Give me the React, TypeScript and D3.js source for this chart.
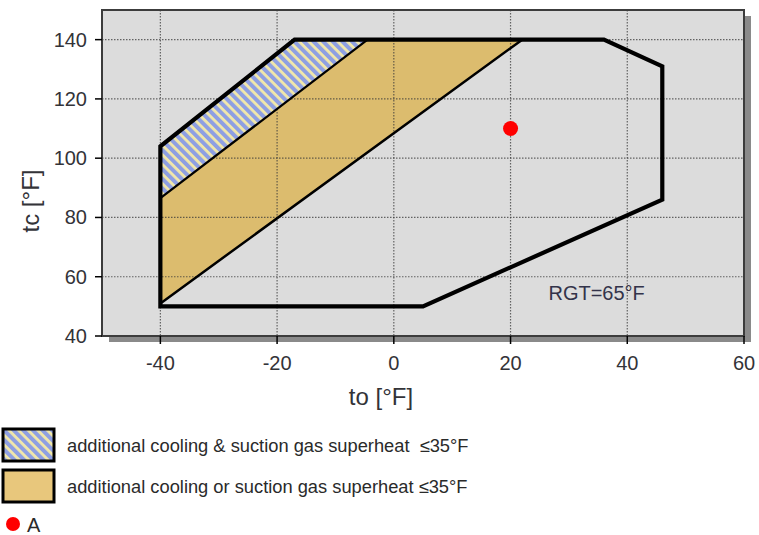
import * as d3 from "d3";

const W = 759;
const H = 535;
const MARGIN = { top: 10, right: 15, bottom: 199, left: 102 };

// axis ticks
const xTicks = [-40, -20, 0, 20, 40, 60];
const yTicks = [40, 60, 80, 100, 120, 140];

// application envelope (to, tc)
const envelopeTo = [-40, -40, -17, 36, 46, 46, 5];
const envelopeTc = [50, 104, 140, 140, 131, 86, 50];

// additional cooling OR suction gas superheat
const orTo = [-40, -40, -17, 22];
const orTc = [51, 104, 140, 140];

// additional cooling AND suction gas superheat
const andTo = [-40, -40, -17, -4.5];
const andTc = [86.5, 104, 140, 140];

// operating point
const pointNames = ["A"];
const pointTo = [20];
const pointTc = [110];

const legendLabels = [
  "additional cooling & suction gas superheat\u00a0 \u226435\u00b0F",
  "additional cooling or suction gas superheat \u226435\u00b0F",
];

const FONT = "'Liberation Sans', Arial, sans-serif";
const BG = "#dcdcdc";
const YELLOW = "#dcbc6e";
const BLUE = "#8e9fe2";
const PALE = "#f2e8aa";
const TEXT = "#333338";

export default function App() {
  const x = d3.scaleLinear().domain([-50, 60]).range([MARGIN.left, W - MARGIN.right]);
  const y = d3.scaleLinear().domain([40, 150]).range([H - MARGIN.bottom, MARGIN.top]);

  const toPath = (xs: number[], ys: number[]) =>
    d3
      .line<number>()
      .x((d) => x(xs[d]))
      .y((d) => y(ys[d]))(d3.range(xs.length)) + "Z";

  const x0 = x(-50);
  const x1 = x(60);
  const y0 = y(40);
  const y1 = y(150);

  return (
    <svg
      width={W}
      height={H}
      style={{ position: "absolute", left: 0, top: 0, background: "#fff" }}
      fontFamily={FONT}
    >
      <defs>
        <pattern
          id="hatch"
          patternUnits="userSpaceOnUse"
          width={6.8}
          height={6.8}
          patternTransform="rotate(-45)"
        >
          <rect width={6.8} height={6.8} fill={PALE} />
          <rect width={4} height={6.8} fill={BLUE} />
        </pattern>
        <clipPath id="plot">
          <rect x={x0} y={y1} width={x1 - x0} height={y0 - y1} />
        </clipPath>
      </defs>

      {/* drop shadow + plot background */}
      <rect x={x0 + 7} y={y1 + 6} width={x1 - x0} height={y0 - y1} fill="#8a8a8a" />
      <rect x={x0} y={y1} width={x1 - x0} height={y0 - y1} fill={BG} />

      <g clipPath="url(#plot)">
        <path d={toPath(orTo, orTc)} fill={YELLOW} />

        {/* grid */}
        {xTicks.map((t) => (
          <line
            key={"gx" + t}
            x1={x(t)}
            x2={x(t)}
            y1={y1}
            y2={y0}
            stroke="#3a3a3a"
            strokeWidth={1.2}
            strokeDasharray="1.5,1.5"
            opacity={0.75}
          />
        ))}
        {yTicks.map((t) => (
          <line
            key={"gy" + t}
            x1={x0}
            x2={x1}
            y1={y(t)}
            y2={y(t)}
            stroke="#3a3a3a"
            strokeWidth={1.2}
            strokeDasharray="1.5,1.5"
            opacity={0.75}
          />
        ))}

        <path d={toPath(andTo, andTc)} fill="url(#hatch)" />
        <path d={toPath(orTo, orTc)} fill="none" stroke="#000" strokeWidth={2.5} strokeLinejoin="round" />
        <path d={toPath(andTo, andTc)} fill="none" stroke="#000" strokeWidth={2.2} strokeLinejoin="round" />
        <path d={toPath(envelopeTo, envelopeTc)} fill="none" stroke="#000" strokeWidth={4.2} strokeLinejoin="miter" />

        {pointNames.map((n, i) => (
          <circle key={n} cx={x(pointTo[i])} cy={y(pointTc[i])} r={7.5} fill="#ff0000" />
        ))}

        <text x={x(26.5)} y={y(54.4)} fontSize={20} fill="#33334a" dominantBaseline="central">
          RGT=65°F
        </text>
      </g>

      {/* frame */}
      <rect x={x0} y={y1} width={x1 - x0} height={y0 - y1} fill="none" stroke="#3c3c3c" strokeWidth={2} />

      {/* y axis */}
      {yTicks.map((t) => (
        <g key={"yt" + t}>
          <line x1={x0 - 7} x2={x0} y1={y(t)} y2={y(t)} stroke="#000" strokeWidth={1.5} />
          <text
            x={x0 - 15}
            y={y(t)}
            textAnchor="end"
            dominantBaseline="central"
            fontSize={20}
            fill={TEXT}
          >
            {t}
          </text>
        </g>
      ))}
      {/* x axis */}
      {xTicks.map((t) => (
        <g key={"xt" + t}>
          <line x1={x(t)} x2={x(t)} y1={y0} y2={y0 + 8} stroke="#000" strokeWidth={1.5} />
          <text
            x={x(t)}
            y={y0 + 27}
            textAnchor="middle"
            dominantBaseline="central"
            fontSize={20}
            fill={TEXT}
          >
            {t}
          </text>
        </g>
      ))}

      <text
        x={381}
        y={396}
        textAnchor="middle"
        dominantBaseline="central"
        fontSize={24}
        fill={TEXT}
      >
        to [°F]
      </text>
      <text
        transform={`translate(30, 201) rotate(-90)`}
        textAnchor="middle"
        dominantBaseline="central"
        fontSize={24}
        fill={TEXT}
      >
        tc [°F]
      </text>

      {/* legend */}
      {legendLabels.map((label, i) => (
        <g key={label} transform={`translate(0, ${429 + i * 41})`}>
          <rect
            x={3}
            y={0}
            width={51}
            height={32}
            fill={i === 0 ? "url(#hatch)" : "#e8c77c"}
            stroke="#000"
            strokeWidth={3}
          />
          <text x={67} y={16} fontSize={18.3} fill="#2a2a2a" dominantBaseline="central">
            {label}
          </text>
        </g>
      ))}
      {pointNames.map((n, i) => (
        <g key={"lp" + n} transform={`translate(0, ${524 + i * 20})`}>
          <circle cx={13} cy={0} r={7} fill="#ff0000" />
          <text x={27} y={1} fontSize={20} fill="#2a2a2a" dominantBaseline="central">
            {n}
          </text>
        </g>
      ))}
    </svg>
  );
}
